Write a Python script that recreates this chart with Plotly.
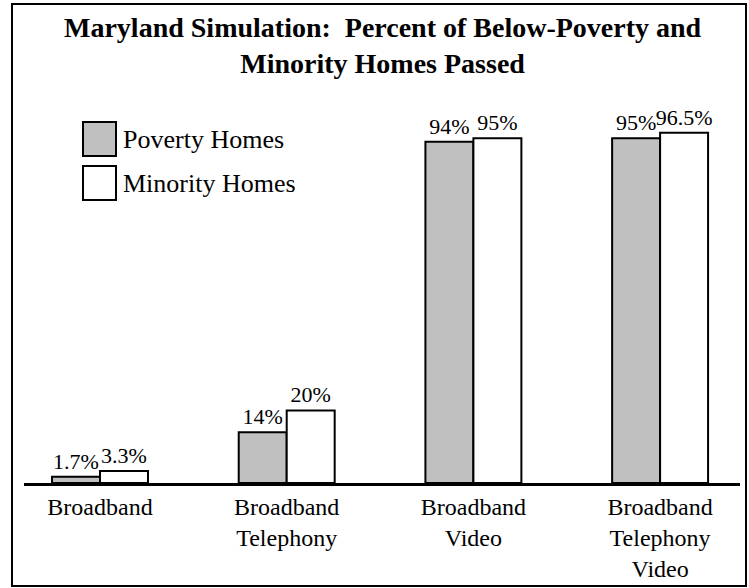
import plotly.graph_objects as go

categories = ["Broadband", "Broadband<br>Telephony", "Broadband<br>Video", "Broadband<br>Telephony<br>Video"]
poverty = [1.7, 14, 94, 95]
minority = [3.3, 20, 95, 96.5]
series_names = ["Poverty Homes", "Minority Homes"]
title_text = "<b>Maryland Simulation:  Percent of Below-Poverty and<br>Minority Homes Passed</b>"

W, H = 749, 588
L, R = 24, 3
BASE = 483          # pixel y of baseline
TOP = 120           # pixel y of plot top
T, B = TOP, H - BASE
PW, PH = W - L - R, BASE - TOP
XSCALE = 186.7      # pixels per category step
X0PIX = 100         # pixel x of first category

def px(xp):
    return (xp - L) / PW

def py(yp):
    return (BASE - yp) / PH

SERIF = "Palatino Linotype, Book Antiqua, Palatino, Liberation Serif, serif"
x = list(range(len(categories)))

fig = go.Figure()
fig.add_trace(go.Bar(
    x=x, y=poverty, name=series_names[0],
    marker=dict(color="#C0C0C0", line=dict(color="black", width=2)),
    texttemplate="%{y}%", textposition="outside", constraintext="none",
    textfont=dict(family=SERIF, size=22, color="black"), cliponaxis=False,
))
fig.add_trace(go.Bar(
    x=x, y=minority, name=series_names[1],
    marker=dict(color="white", line=dict(color="black", width=2)),
    texttemplate="%{y}%", textposition="outside", constraintext="none",
    textfont=dict(family=SERIF, size=22, color="black"), cliponaxis=False,
))

shapes = [
    dict(type="rect", xref="paper", yref="paper", x0=px(12), x1=px(746), y0=py(586), y1=py(4),
         line=dict(color="black", width=2), fillcolor="rgba(0,0,0,0)", layer="below"),
    dict(type="rect", xref="paper", yref="paper", x0=px(83), x1=px(116), y0=py(156), y1=py(122),
         line=dict(color="black", width=2), fillcolor="#C0C0C0"),
    dict(type="rect", xref="paper", yref="paper", x0=px(83), x1=px(116), y0=py(200), y1=py(166),
         line=dict(color="black", width=2), fillcolor="white"),
]
annotations = [
    dict(xref="paper", yref="paper", x=px(121), y=py(139), xanchor="left", yanchor="middle",
         text=series_names[0], showarrow=False, font=dict(family=SERIF, size=26, color="black")),
    dict(xref="paper", yref="paper", x=px(121), y=py(183), xanchor="left", yanchor="middle",
         text=series_names[1], showarrow=False, font=dict(family=SERIF, size=26, color="black")),
    dict(xref="paper", yref="paper", x=px(383), y=py(10), xanchor="center", yanchor="top",
         text=title_text, showarrow=False, font=dict(family=SERIF, size=28, color="black")),
]

fig.update_layout(
    width=W, height=H,
    margin=dict(l=L, r=R, t=T, b=B, pad=0),
    paper_bgcolor="white", plot_bgcolor="white",
    barmode="group", bargap=0.486, bargroupgap=0,
    showlegend=False,
    xaxis=dict(tickmode="array", tickvals=x, ticktext=categories,
               range=[(L - X0PIX) / XSCALE, (740 - X0PIX) / XSCALE],
               domain=[0, (740 - L) / PW],
               showline=True, linecolor="black", linewidth=3, ticks="",
               showgrid=False, zeroline=False,
               tickfont=dict(family=SERIF, size=24, color="black")),
    yaxis=dict(range=[0, 100], visible=False, showgrid=False, zeroline=False),
    shapes=shapes, annotations=annotations,
    font=dict(family=SERIF),
)

fig.write_html("out.html")
